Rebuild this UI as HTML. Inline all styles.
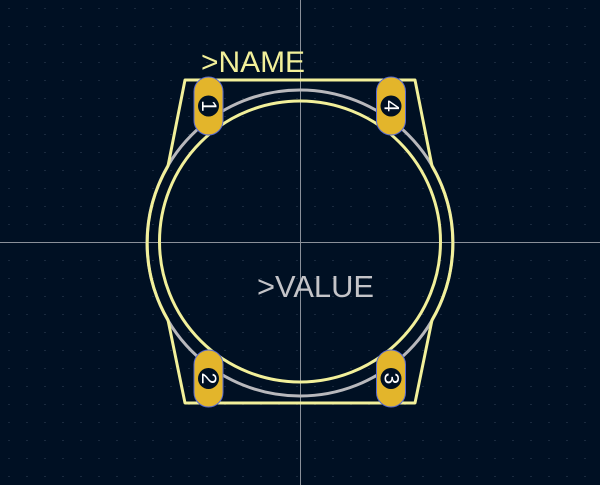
<!DOCTYPE html>
<html><head><meta charset="utf-8"><style>
html,body{margin:0;padding:0;background:#001023;width:600px;height:485px;overflow:hidden}
svg{display:block}
</style></head><body>
<svg width="600" height="485" viewBox="0 0 600 485">
<defs>
<pattern id="grid" x="0" y="8" width="18" height="18" patternUnits="userSpaceOnUse">
<rect x="8.5" y="0" width="1" height="1" fill="#34455a"/>
</pattern>
</defs>
<rect width="600" height="485" fill="#001023"/>
<rect width="600" height="485" fill="url(#grid)"/>
<line x1="0" y1="242.5" x2="600" y2="242.5" stroke="#8a9099" stroke-width="1"/>
<line x1="300.5" y1="0" x2="300.5" y2="485" stroke="#8a9099" stroke-width="1"/>
<circle cx="300" cy="243" r="153" fill="none" stroke="#b8b8bc" stroke-width="3"/>
<circle cx="300" cy="241.5" r="140.5" fill="none" stroke="#f2f09a" stroke-width="3"/>
<path d="M185,80 L415,80 L432,166 A153,153 0 0 1 432,320 L415,403 L185,403 L168,320 A153,153 0 0 1 168,166 Z" fill="none" stroke="#f2f09a" stroke-width="3" stroke-linejoin="round"/>
<g>
<rect x="194" y="77" width="29" height="58" rx="14.5" fill="#e3b52b" stroke="#5a6bd0" stroke-width="1"/>
<circle cx="208.5" cy="106" r="10.5" fill="#001023"/>
<text x="208.5" y="106" transform="rotate(90 208.5 106)" text-anchor="middle" dominant-baseline="central" font-family="Liberation Sans, sans-serif" font-size="21" fill="#fff">1</text>
</g>
<g>
<rect x="376.5" y="77" width="29" height="58" rx="14.5" fill="#e3b52b" stroke="#5a6bd0" stroke-width="1"/>
<circle cx="391" cy="106" r="10.5" fill="#001023"/>
<text x="391" y="106" transform="rotate(90 391 106)" text-anchor="middle" dominant-baseline="central" font-family="Liberation Sans, sans-serif" font-size="21" fill="#fff">4</text>
</g>
<g>
<rect x="194" y="350" width="29" height="57" rx="14.5" fill="#e3b52b" stroke="#5a6bd0" stroke-width="1"/>
<circle cx="208.5" cy="378.5" r="10.5" fill="#001023"/>
<text x="208.5" y="378.5" transform="rotate(90 208.5 378.5)" text-anchor="middle" dominant-baseline="central" font-family="Liberation Sans, sans-serif" font-size="21" fill="#fff">2</text>
</g>
<g>
<rect x="376.5" y="350" width="29" height="57" rx="14.5" fill="#e3b52b" stroke="#5a6bd0" stroke-width="1"/>
<circle cx="391" cy="378.5" r="10.5" fill="#001023"/>
<text x="391" y="378.5" transform="rotate(90 391 378.5)" text-anchor="middle" dominant-baseline="central" font-family="Liberation Sans, sans-serif" font-size="21" fill="#fff">3</text>
</g>
<text x="201" y="72" font-family="Liberation Sans, sans-serif" font-size="30" fill="#f2f09a" textLength="104" lengthAdjust="spacingAndGlyphs">&gt;NAME</text>
<text x="257" y="297" font-family="Liberation Sans, sans-serif" font-size="31" fill="#c4c4c8" textLength="117" lengthAdjust="spacingAndGlyphs">&gt;VALUE</text>
</svg>
</body></html>
